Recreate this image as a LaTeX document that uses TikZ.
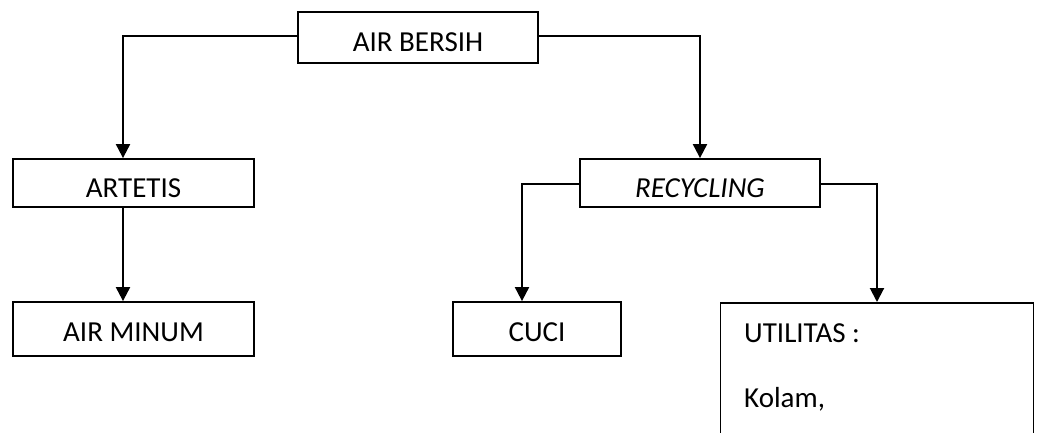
\documentclass[tikz,border=0pt]{standalone}
\usepackage{fontspec}
\setmainfont{Carlito}
\usetikzlibrary{arrows.meta}
\begin{document}
\begin{tikzpicture}[x=1pt,y=-1pt,
  box/.style={draw,line width=1.8pt,minimum height=#1,inner sep=0pt,
    text height=18pt,text depth=0pt,font=\fontsize{29}{34}\selectfont},
  box/.default=48pt,
  conn/.style={line width=2pt,-{Triangle[width=14pt,length=14pt]}},
  lbl/.style={anchor=base west,inner sep=0pt,font=\fontsize{29}{34}\selectfont}]
\useasboundingbox (0,0) rectangle (1041,432);
\clip (0,0) rectangle (1041,432);
\node[box=51pt,minimum width=240pt] (top) at (418,37.5) {\raisebox{-4.5pt}{AIR BERSIH}};
\node[box=48pt,minimum width=241pt] (artetis) at (133.5,183) {\raisebox{-5pt}{ARTETIS}};
\node[box=48pt,minimum width=240pt] (recycling) at (700,183) {\raisebox{-5pt}{\itshape RECYCLING}};
\node[box=54pt,minimum width=241pt] (airminum) at (133.5,329) {\raisebox{-3pt}{AIR MINUM}};
\node[box=54pt,minimum width=168pt] (cuci) at (537,329) {\raisebox{-3pt}{CUCI}};
\node[draw,line width=1.8pt,minimum width=313pt,minimum height=180pt,inner sep=0pt,anchor=north] (utilitas) at (877,302) {};
\node[lbl] (ut1) at (744,342) {UTILITAS :};
\node[lbl] (ut2) at (744,407) {Kolam,};
\draw[conn] ([yshift=1.5pt]top.west) -| ([xshift=-10.5pt]artetis.north);
\draw[conn] ([yshift=1.5pt]top.east) -| (recycling.north);
\draw[conn] ([xshift=-10.5pt]artetis.south) -- ([xshift=-10.5pt]airminum.north);
\draw[conn] ([yshift=-1pt]recycling.west) -| ([xshift=-15pt]cuci.north);
\draw[conn] ([yshift=-1pt]recycling.east) -| (utilitas.north);
\end{tikzpicture}
\end{document}
